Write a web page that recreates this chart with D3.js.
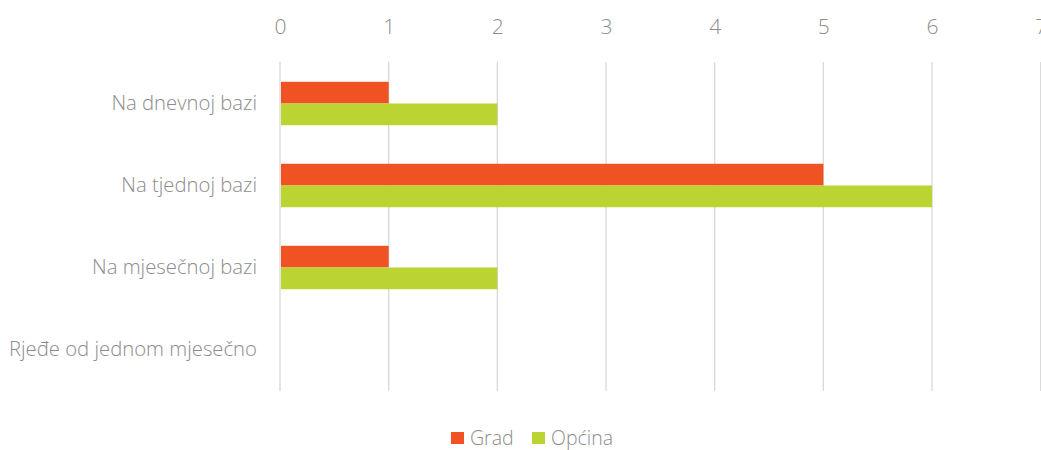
<!DOCTYPE html>
<html>
<head>
<meta charset="utf-8">
<script src="https://cdn.jsdelivr.net/npm/d3@7"></script>
<style>
  html, body { margin: 0; padding: 0; background: #fff; }
  svg text { font-family: "Open Sans", "Segoe UI", sans-serif; font-weight: 300; fill: #8c8c8c; }
</style>
</head>
<body>
<svg id="chart" width="1041" height="450"></svg>
<script>
// Frequency categories (top to bottom)
const categories = ["Na dnevnoj bazi", "Na tjednoj bazi", "Na mjesečnoj bazi", "Rjeđe od jednom mjesečno"];
// Series
const seriesNames = ["Grad", "Općina"];
const gradValues = [1, 5, 1, 0];
const opcinaValues = [2, 6, 2, 0];
const seriesColors = ["#F05223", "#BBD431"];
const tickValues = [0, 1, 2, 3, 4, 5, 6, 7];

const svg = d3.select("#chart");

const x = d3.scaleLinear().domain([0, 7]).range([280, 1040.7]);
const y = d3.scaleBand().domain(categories).range([62.5, 390.5])
  .paddingInner(0.47).paddingOuter(0.235);
const ySub = d3.scaleBand().domain(seriesNames).range([0, y.bandwidth()]);

// Vertical gridlines
svg.append("g").selectAll("line").data(tickValues).join("line")
  .attr("x1", d => x(d)).attr("x2", d => x(d))
  .attr("y1", 62).attr("y2", 391)
  .attr("stroke", "#d9d9d9").attr("stroke-width", 1.3);

// Top axis labels
const xAxis = d3.axisTop(x).tickValues(tickValues).tickFormat(d3.format("d")).tickSize(0).tickPadding(0);
const gx = svg.append("g").attr("transform", "translate(0,34)").call(xAxis);
gx.select(".domain").remove();
gx.selectAll("text").attr("font-size", 21).attr("fill", "#8c8c8c")
  .style("font-family", "'Open Sans', sans-serif").style("font-weight", 300);

// Category labels
const yAxis = d3.axisLeft(y).tickSize(0).tickPadding(0);
const gy = svg.append("g").attr("transform", "translate(257,0)").call(yAxis);
gy.select(".domain").remove();
gy.selectAll("text").attr("font-size", 20.3).attr("fill", "#8c8c8c")
  .style("font-family", "'Open Sans', sans-serif").style("font-weight", 300);

// Bars
const series = [gradValues, opcinaValues];
series.forEach((vals, si) => {
  svg.append("g").selectAll("rect").data(categories).join("rect")
    .attr("x", x(0) + 1)
    .attr("y", (c) => y(c) + ySub(seriesNames[si]))
    .attr("width", (c, i) => Math.max(0, x(vals[i]) - x(0) - 1))
    .attr("height", ySub.bandwidth())
    .attr("fill", seriesColors[si]);
});

// Legend
const legendItems = [{ name: "Grad", x: 451 }, { name: "Općina", x: 532 }];
const lg = svg.append("g");
legendItems.forEach((it, i) => {
  lg.append("rect").attr("x", it.x).attr("y", 432).attr("width", 13).attr("height", 12)
    .attr("fill", seriesColors[i]);
  lg.append("text").attr("x", it.x + 19).attr("y", 438).attr("dy", "0.35em")
    .attr("font-size", 19.5).text(it.name);
});
</script>
</body>
</html>
